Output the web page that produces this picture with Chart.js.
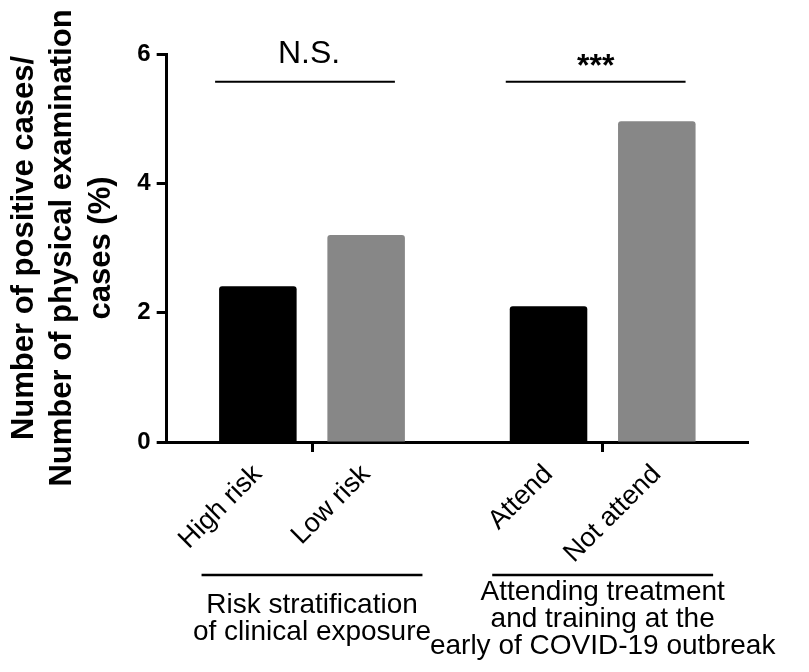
<!DOCTYPE html>
<html>
<head>
<meta charset="utf-8">
<script src="https://cdn.jsdelivr.net/npm/chart.js"></script>
<style>
  html, body { margin: 0; padding: 0; background: #fff; }
</style>
</head>
<body>
<canvas id="groupChart" width="809" height="672"></canvas>
<script>
// values (%)
const groupNames = [
	['Risk stratification', 'of clinical exposure'],
	['Attending treatment', 'and training at the', 'early of COVID-19 outbreak'],
]
const firstBarNames = ['High risk', 'Attend']
const secondBarNames = ['Low risk', 'Not attend']
const firstValues = [2.41, 2.10]
const secondValues = [3.20, 4.96]
const significance = ['N.S.', '***']
const yTicks = [0, 2, 4, 6]
const yTitle = ['Number of positive cases/', 'Number of physical examination', 'cases (%)']

const FONT = "'Liberation Sans', Arial, Helvetica, sans-serif"

// empty lines on top of the group names leave room for the rotated bar names
const groupLabels = groupNames.map(g => ['', '', '', '', '', ...g])

// significance lines, bar names under the bars and lines over group names
const extras = {
	id: 'extras',
	afterDraw(chart) {
		const { ctx, scales: { x, y } } = chart
		const first = chart.getDatasetMeta(0).data
		const second = chart.getDatasetMeta(1).data
		ctx.save()
		ctx.fillStyle = '#000'
		ctx.strokeStyle = '#000'

		first.forEach((bar, i) => {
			const other = second[i]
			const lineY = y.getPixelForValue(5.57)
			const left = bar.x - bar.width / 2 - 4
			const right = other.x + other.width / 2 - 10
			ctx.lineWidth = 2
			ctx.beginPath()
			ctx.moveTo(left, lineY)
			ctx.lineTo(right, lineY)
			ctx.stroke()

			const txt = significance[i]
			const stars = /^\*+$/.test(txt)
			ctx.textAlign = 'center'
			ctx.textBaseline = 'alphabetic'
			ctx.font = stars ? `bold 32px ${FONT}` : `32px ${FONT}`
			ctx.fillText(txt, (left + right) / 2 + (stars ? 0 : 4), stars ? lineY - 6 : lineY - 19)
		})

		// rotated names under each bar
		ctx.font = `27px ${FONT}`
		ctx.textAlign = 'right'
		ctx.textBaseline = 'middle'
		const drawName = (bar, name) => {
			ctx.save()
			ctx.translate(bar.x, x.top + 28)
			ctx.rotate(-Math.PI / 4)
			ctx.fillText(name, 0, 0)
			ctx.restore()
		}
		first.forEach((bar, i) => drawName(bar, firstBarNames[i]))
		second.forEach((bar, i) => drawName(bar, secondBarNames[i]))

		// line above each group name
		ctx.lineWidth = 2.5
		groupNames.forEach((g, i) => {
			const cx = x.getPixelForTick(i)
			const half = (x.width / groupNames.length) * 0.38
			const ly = x.top + 133
			ctx.beginPath()
			ctx.moveTo(cx - half, ly)
			ctx.lineTo(cx + half, ly)
			ctx.stroke()
		})
		ctx.restore()
	},
}

const ctx = document.getElementById('groupChart').getContext('2d')
const myChart = new Chart(ctx, {
	type: 'bar',
	data: {
		labels: groupLabels,
		datasets: [
			{
				label: 'first',
				data: firstValues,
				backgroundColor: '#000000',
				borderRadius: { topLeft: 3, topRight: 3 },
				borderSkipped: 'start',
			},
			{
				label: 'second',
				data: secondValues,
				backgroundColor: '#878787',
				borderRadius: { topLeft: 3, topRight: 3 },
				borderSkipped: 'start',
			},
		],
	},
	options: {
		responsive: false,
		animation: false,
		categoryPercentage: 0.745,
		barPercentage: 0.716,
		layout: {
			padding: { top: 54, right: 61, left: 0, bottom: 0 },
		},
		plugins: {
			legend: { display: false },
			tooltip: { enabled: false },
		},
		scales: {
			x: {
				afterFit: scale => {
					scale.height = 230
				},
				grid: {
					drawOnChartArea: false,
					offset: false,
					tickLength: 10,
					tickWidth: 3,
					tickColor: '#000',
				},
				border: { width: 3, color: '#000' },
				ticks: {
					color: '#000',
					font: { family: FONT, size: 28, lineHeight: 0.965 },
					padding: 5,
					minRotation: 0,
					maxRotation: 0,
					autoSkip: false,
					crossAlign: 'center',
				},
			},
			y: {
				min: 0,
				max: 6,
				afterBuildTicks: scale => {
					scale.ticks = yTicks.map(v => ({ value: v }))
				},
				grid: {
					drawOnChartArea: false,
					tickLength: 10,
					tickWidth: 3,
					tickColor: '#000',
				},
				border: { width: 3, color: '#000' },
				ticks: {
					color: '#000',
					padding: 6,
					font: { family: FONT, size: 24, weight: 'bold' },
				},
				title: {
					display: true,
					text: yTitle,
					color: '#000',
					font: { family: FONT, size: 31, weight: 'bold', lineHeight: 1.24 },
					padding: { top: 5, bottom: 11 },
				},
			},
		},
	},
	plugins: [extras],
})
</script>
</body>
</html>
